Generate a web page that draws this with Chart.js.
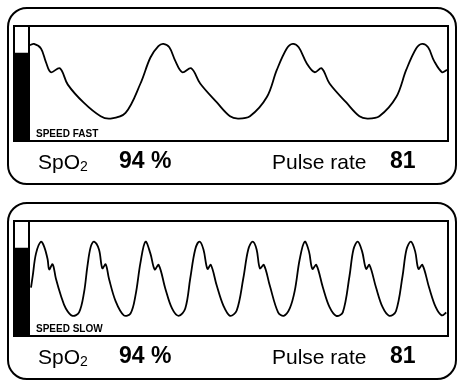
<!DOCTYPE html>
<html>
<head>
<meta charset="utf-8">
<script src="https://cdn.jsdelivr.net/npm/chart.js@4.4.1/dist/chart.umd.min.js"></script>
<style>
body{margin:0;background:#fff;width:463px;height:385px;overflow:hidden;font-family:"Liberation Sans",Arial,sans-serif;color:#000;}
.frame{position:absolute;left:7px;width:450px;height:178px;border:2px solid #000;border-radius:20px;box-sizing:border-box;}
.screen{position:absolute;left:13px;width:436px;height:117px;border:2px solid #000;box-sizing:border-box;}
.sig{position:absolute;left:15px;width:13px;height:113px;}
.sep{position:absolute;left:28px;width:2px;height:113px;background:#000;}
.wave{position:absolute;left:30px;width:417px;height:113px;}
.speed{position:absolute;left:36px;font-size:10px;line-height:10px;font-weight:bold;white-space:nowrap;}
.txt{position:absolute;white-space:nowrap;}
</style>
</head>
<body>
<script>
// pleth curve, fast sweep (time in samples, level 0-100)
let fastTime=[0,4,11,16,21,30,38,54,71,81,96,111,121,129,134,140,146,153,162,171,188,201,209,221,238,248,258,264,270,278,286,293,301,318,331,339,351,368,378,388,394,400,406,414,419];
let fastLevel=[84,85,81,69,60,63.5,49,33,21,19,24,50,73,83,85,82,70,60,63.5,50,33,21,19,21,38,62,81,85,82,68,60,63.5,50,33,21,19,21,38,62,81,85,82,70,60,62];

// pleth curve, slow sweep
let slowTime=[1,2.7,6,11,14.3,17.7,19.3,22.7,26,31,36,42.7,49.3,54.3,57.7,61,64.3,69.3,72.7,76,79.3,86,94.3,101,106,111,116,121,125.3,129.3,136,142.7,149.3,156,161,166,170.3,174.3,178.3,181.7,187.7,194.3,201,207.7,214.3,219.3,223.7,227.7,231,235,241,249.3,255,261,266,271,276,280.3,283.7,287.7,294.3,301,307.7,314.3,321,325,329.3,333.7,337.7,341,347.7,354.3,361,367.7,374.3,378.3,382.7,387,390.3,394.3,401,407.7,413.7,418.3];
let slowLevel=[42,52,72,82.6,78,67,58,62.6,50,35,23.5,17,20,37.7,61,78,82.6,75.7,59,62.6,50,30,17.4,19,35,64,82.6,72,58,62,41,23.5,17,23.5,50,75.7,82.6,75.7,58.5,62,43.5,26,17,21.7,50,75.7,82.6,75.7,59,62,43.5,20,17,23.5,39,67,82.6,74,58.5,62,42,24.6,17,20,52,75.7,82.6,74,58.5,62,42,24.6,17,21,52,75.7,82.6,74,58.5,62,42,24.6,17.4,20];

let signalLevel=[77,77];
let speeds=['FAST','SLOW'];
let spo2=[94,94];
let pulseRate=[81,81];

let curves=[[fastTime,fastLevel],[slowTime,slowLevel]];

function el(cls,top,parent){
    let d=document.createElement('div');
    d.className=cls;
    d.style.top=top+'px';
    (parent||document.body).appendChild(d);
    return d;
}

function txt(html,left,baseline,size,bold){
    let d=el('txt',baseline-Math.round(size*0.85));
    d.style.left=left+'px';
    d.style.fontSize=size+'px';
    d.style.lineHeight=size+'px';
    if(bold) d.style.fontWeight='bold';
    d.innerHTML=html;
}

const noAxis={display:false};

for(let p=0;p<2;p++){
    let oy=p*195;
    el('frame',7+oy);
    el('screen',25+oy);
    el('sep',27+oy);

    // signal strength bar
    let sig=el('sig',27+oy);
    let c1=document.createElement('canvas');
    sig.appendChild(c1);
    new Chart(c1,{
        type:'bar',
        data:{labels:['sig'],datasets:[{data:[signalLevel[p]],backgroundColor:'#000',borderWidth:0,barPercentage:1,categoryPercentage:1}]},
        options:{
            responsive:true,maintainAspectRatio:false,animation:false,
            layout:{padding:0},
            plugins:{legend:{display:false},tooltip:{enabled:false}},
            scales:{x:noAxis,y:{display:false,min:0,max:100}}
        }
    });

    // waveform
    let wv=el('wave',27+oy);
    let c2=document.createElement('canvas');
    wv.appendChild(c2);
    let t=curves[p][0],v=curves[p][1];
    new Chart(c2,{
        type:'line',
        data:{datasets:[{
            data:t.map((x,i)=>({x:x,y:v[i]})),
            borderColor:'#000',
            borderWidth:1.8,
            pointRadius:0,
            tension:0.35,
            fill:false
        }]},
        options:{
            responsive:true,maintainAspectRatio:false,animation:false,
            layout:{padding:0},
            plugins:{legend:{display:false},tooltip:{enabled:false}},
            scales:{
                x:{type:'linear',display:false,min:0,max:419},
                y:{display:false,min:0,max:100}
            }
        }
    });

    let sp=el('speed',129+oy);
    sp.textContent='SPEED '+speeds[p];

    txt('SpO<span style="font-size:14px;position:relative;top:2px">2</span>',38,168.5+oy,21,false);
    txt(spo2[p]+' %',119,168.5+oy,23,true);
    txt('Pulse rate',272,168.5+oy,21,false);
    txt(String(pulseRate[p]),390,168.5+oy,23,true);
}
</script>
</body>
</html>
